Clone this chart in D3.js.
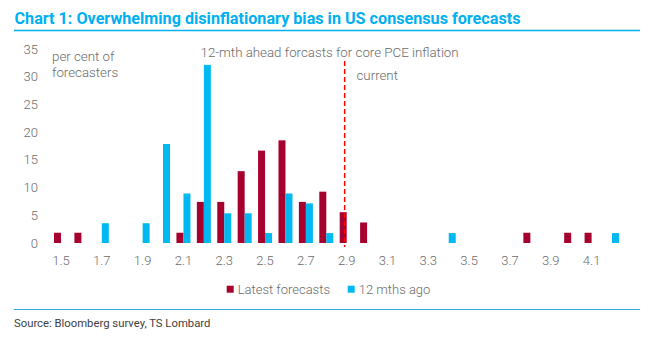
<!DOCTYPE html>
<html>
<head>
<meta charset="utf-8">
<script src="https://cdn.jsdelivr.net/npm/d3@7"></script>
<style>
  body { margin: 0; background: #fff; }
  svg { font-family: Roboto, "Open Sans", sans-serif; }
</style>
</head>
<body>
<svg width="652" height="338"></svg>
<script>
// forecast buckets, % of forecasters
var categories = ["1.5","1.6","1.7","1.8","1.9","2.0","2.1","2.2","2.3","2.4","2.5","2.6","2.7","2.8",
                  "2.9","3.0","3.1","3.2","3.3","3.4","3.5","3.6","3.7","3.8","3.9","4.0","4.1","4.2"];
var latest = [1.85,1.85,0,0,0,0,1.85,7.41,7.41,12.96,16.67,18.52,7.41,9.26,
              5.56,3.7,0,0,0,0,0,0,0,1.85,0,1.85,1.85,0];
var ago = [0,0,3.57,0,3.57,17.86,8.93,32.14,5.36,5.36,1.79,8.93,7.14,1.79,
           0,0,0,0,0,1.79,0,0,0,0,0,0,0,1.79];
var xTicks = ["1.5","1.7","1.9","2.1","2.3","2.5","2.7","2.9","3.1","3.3","3.5","3.7","3.9","4.1"];
var yTicks = [0,5,10,15,20,25,30,35];
var current = 2.89;

var red = "#a6002f", blue = "#00b9f2", grey = "#6b6b6b";

var svg = d3.select("svg");

var x = d3.scaleBand().domain(categories).range([50.8, 622.2]);
var xv = d3.scaleLinear().domain([1.5, 4.2]).range([x("1.5") + x.bandwidth() / 2, x("4.2") + x.bandwidth() / 2]);
var y = d3.scaleLinear().domain([0, 35]).range([243, 49]);
var bw = 7;

// title
svg.append("text")
  .attr("x", 14.5).attr("y", 23.5)
  .attr("font-size", 17).attr("font-weight", 700)
  .attr("fill", "#00b0f0")
  .attr("textLength", 506).attr("lengthAdjust", "spacingAndGlyphs")
  .text("Chart 1: Overwhelming disinflationary bias in US consensus forecasts");
svg.append("line").attr("x1", 14).attr("x2", 640).attr("y1", 30.5).attr("y2", 30.5)
  .attr("stroke", "#00b0f0").attr("stroke-width", 1.3);

// y axis labels
svg.append("g").selectAll("text").data(yTicks).enter().append("text")
  .attr("x", 38).attr("y", function(d) { return y(d); })
  .attr("dy", "0.35em").attr("text-anchor", "end")
  .attr("font-size", 13).attr("font-weight", 300).attr("fill", grey)
  .text(function(d) { return d; });

// x axis labels
svg.append("g").selectAll("text").data(xTicks).enter().append("text")
  .attr("x", function(d) { return x(d) + x.bandwidth() / 2; }).attr("y", 264.5)
  .attr("text-anchor", "middle")
  .attr("font-size", 13).attr("font-weight", 300).attr("fill", grey)
  .text(function(d) { return d; });

var g = svg.append("g");
g.selectAll(".red").data(categories).enter().append("rect")
  .attr("class", "red")
  .attr("x", function(d) { return x(d) + x.bandwidth() / 2 - bw; })
  .attr("y", function(d, i) { return y(latest[i]); })
  .attr("width", bw)
  .attr("height", function(d, i) { return y(0) - y(latest[i]); })
  .attr("fill", red);
g.selectAll(".blue").data(categories).enter().append("rect")
  .attr("class", "blue")
  .attr("x", function(d) { return x(d) + x.bandwidth() / 2; })
  .attr("y", function(d, i) { return y(ago[i]); })
  .attr("width", bw)
  .attr("height", function(d, i) { return y(0) - y(ago[i]); })
  .attr("fill", blue);

// current line
svg.append("line")
  .attr("x1", xv(current)).attr("x2", xv(current))
  .attr("y1", 61).attr("y2", 247)
  .attr("stroke", "#ff0000").attr("stroke-width", 1.5)
  .attr("stroke-dasharray", "5,3");

// annotations
var notes = svg.append("g").attr("font-size", 13.3).attr("font-weight", 300).attr("fill", grey);
notes.append("text").attr("x", 52).attr("y", 61).text("per cent of");
notes.append("text").attr("x", 52).attr("y", 77).text("forecasters");
notes.append("text").attr("x", 200.5).attr("y", 56.5).text("12-mth ahead forcasts for core PCE inflation");
notes.append("text").attr("x", 356.5).attr("y", 79.5).text("current");

// legend
var legend = [{name: "Latest forecasts", color: red, x: 226.7}, {name: "12 mths ago", color: blue, x: 347.7}];
var lg = svg.append("g").selectAll("g").data(legend).enter().append("g");
lg.append("rect").attr("x", function(d) { return d.x; }).attr("y", 285.7)
  .attr("width", 7).attr("height", 7).attr("fill", function(d) { return d.color; });
lg.append("text").attr("x", function(d) { return d.x + 11; }).attr("y", 289.5)
  .attr("dy", "0.35em").attr("font-size", 13).attr("font-weight", 300).attr("fill", grey)
  .text(function(d) { return d.name; });

svg.append("line").attr("x1", 14).attr("x2", 640).attr("y1", 309.5).attr("y2", 309.5)
  .attr("stroke", "#29a9e1").attr("stroke-width", 1);

svg.append("text").attr("x", 14).attr("y", 327)
  .attr("font-size", 11.3).attr("fill", "#404040")
  .text("Source: Bloomberg survey, TS Lombard");
</script>
</body>
</html>
